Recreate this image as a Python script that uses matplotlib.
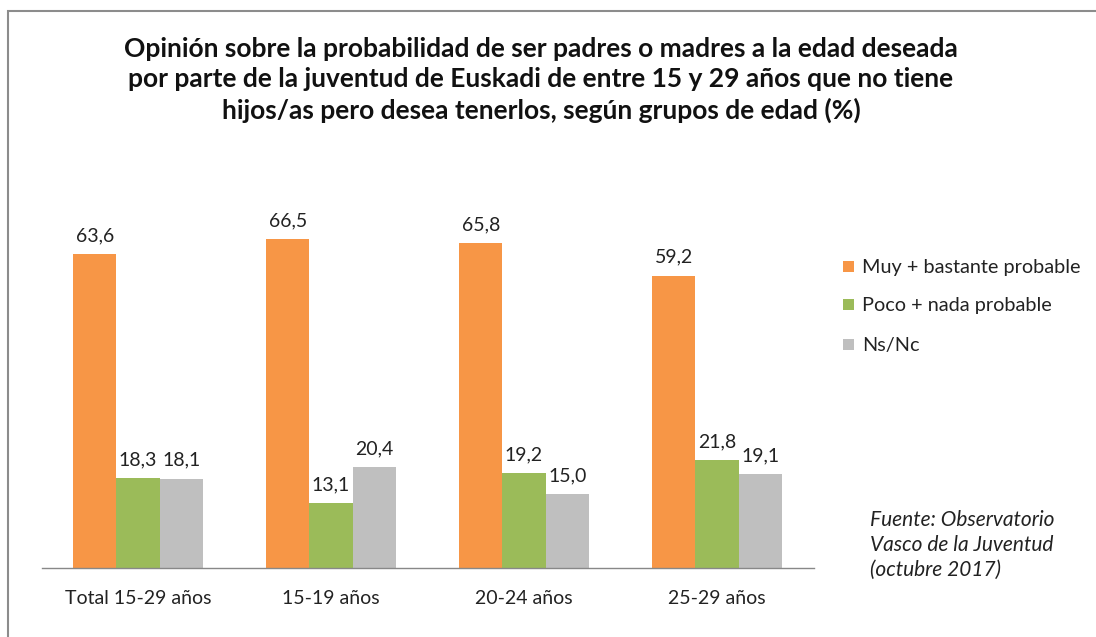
import matplotlib
matplotlib.use("Agg")
import matplotlib.pyplot as plt
from matplotlib.patches import Rectangle
import numpy as np

categories = ["Total 15-29 años", "15-19 años", "20-24 años", "25-29 años"]
series_names = ["Muy + bastante probable", "Poco + nada probable", "Ns/Nc"]
muy_bastante = [63.6, 66.5, 65.8, 59.2]
poco_nada = [18.3, 13.1, 19.2, 21.8]
ns_nc = [18.1, 20.4, 15.0, 19.1]
colors = ["#F79646", "#9BBB59", "#BFBFBF"]

title = ("Opinión sobre la probabilidad de ser padres o madres a la edad deseada\n"
         "por parte de la juventud de Euskadi de entre 15 y 29 años que no tiene\n"
         "hijos/as pero desea tenerlos, según grupos de edad (%)")
source = "Fuente: Observatorio\nVasco de la Juventud\n(octubre 2017)"

plt.rcParams['font.family'] = ['Lato', 'DejaVu Sans']

W, H = 1096, 637
fig = plt.figure(figsize=(W / 100, H / 100), dpi=100)
fig.patch.set_facecolor("white")

# outer border
fig.add_artist(Rectangle((8 / W, -0.05), 1.2, 1 - 11 / H + 0.05, transform=fig.transFigure,
                         fill=False, edgecolor="#8C8C8C", linewidth=1.5))

ax = fig.add_axes([41.5 / W, 1 - 568 / H, 772 / W, (568 - 172.8) / H])
x = np.arange(len(categories))
bw = 0.224
series = [muy_bastante, poco_nada, ns_nc]
for i, (vals, col, name) in enumerate(zip(series, colors, series_names)):
    bars = ax.bar(x + (i - 1) * bw, vals, bw, color=col, label=name)
    for b, v in zip(bars, vals):
        ax.annotate(f"{v:.1f}".replace(".", ","), (b.get_x() + b.get_width() / 2, v),
                    xytext=(0, 7), textcoords="offset points",
                    ha="center", va="bottom", fontsize=14, color="#222222")

ax.set_xlim(-0.5, len(categories) - 0.5)
ax.set_ylim(0, 80)
ax.set_yticks([])
ax.set_xticks(x)
ax.set_xticklabels(categories, fontsize=14, color="#222222")
ax.tick_params(axis="x", length=0, pad=16)
for s in ["top", "right", "left"]:
    ax.spines[s].set_visible(False)
ax.spines["bottom"].set_color("#888888")
ax.spines["bottom"].set_linewidth(1)

fig.text(541 / W, 1 - 80 / H, title, ha="center", va="center", fontsize=19,
         fontweight="bold", color="#111111", linespacing=1.33)

# legend
leg_y = [267, 305, 345]
for yy, col, name in zip(leg_y, colors, series_names):
    fig.add_artist(Rectangle((843 / W, 1 - (yy + 5) / H), 11 / W, 11 / H,
                             transform=fig.transFigure, facecolor=col, edgecolor="none"))
    fig.text(862 / W, 1 - yy / H, name, ha="left", va="center", fontsize=14.3, color="#222222")

fig.text(870 / W, 1 - 545 / H, source, ha="left", va="center", fontsize=15,
         style="italic", color="#222222", linespacing=1.32)

fig.savefig("out.png", dpi=100)
